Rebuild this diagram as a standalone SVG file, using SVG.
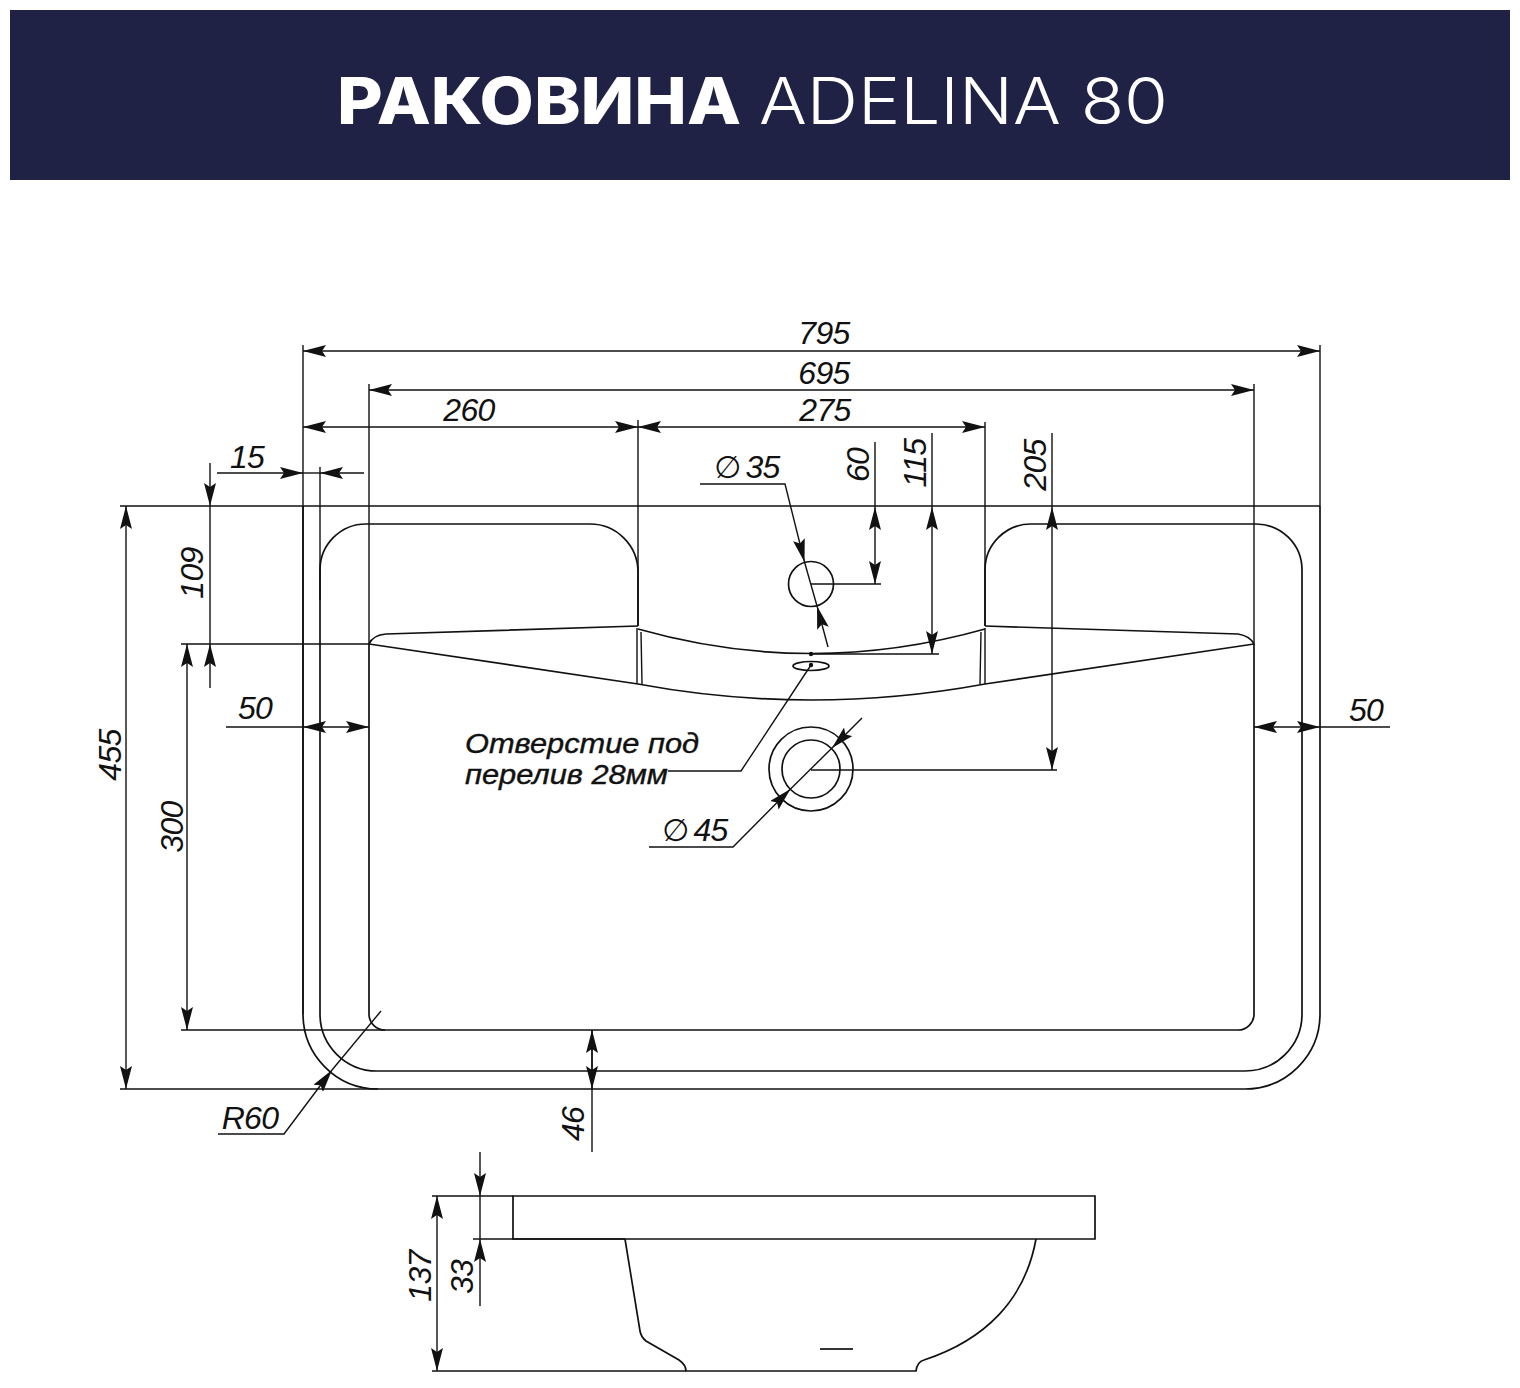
<svg xmlns="http://www.w3.org/2000/svg" width="1520" height="1388" viewBox="0 0 1520 1388">
<style>
.o{fill:none;stroke:#111;stroke-width:1.7}
.d{fill:none;stroke:#111;stroke-width:1.4}
.a{marker-end:url(#ar)}
.b{marker-start:url(#ar);marker-end:url(#ar)}
.t{font-family:"Liberation Sans",Arial,sans-serif;font-style:italic;font-size:32px;letter-spacing:-.7px;fill:#111;text-anchor:middle}
.dia{word-spacing:-4px}
.f{font-family:"DejaVu Sans",sans-serif;font-style:italic;font-size:31px;letter-spacing:0}
.l{font-family:"Liberation Sans",Arial,sans-serif;font-style:italic;font-size:28px;fill:#111;stroke:#111;stroke-width:.4}
.h{font-family:"Inter","Open Sans",sans-serif;font-size:64px;fill:#fff}
</style>
<defs>
<marker id="ar" markerUnits="userSpaceOnUse" markerWidth="23" markerHeight="12" viewBox="0 0 23 12" refX="23" refY="6" orient="auto-start-reverse"><path d="M23 6L0 0L4 6L0 12Z" fill="#111"/></marker>
</defs>
<rect width="1520" height="1388" fill="#fff"/>
<g id="header">
<rect x="10" y="10" width="1500" height="170" fill="#1f2145"/>
<text class="h" x="337" y="124" font-weight="800" textLength="404" lengthAdjust="spacingAndGlyphs">РАКОВИНА</text>
<text class="h" x="759" y="124" font-weight="300" textLength="409" lengthAdjust="spacingAndGlyphs">ADELINA 80</text>
</g>
<g id="plan">
<path class="o" d="M303 506V1014A75 75 0 0 0 378 1089H1245A75 75 0 0 0 1320 1014V506"/>
<path class="o" d="M638 626V572A48 48 0 0 0 590 524H366A46 46 0 0 0 320 570V1014A57 57 0 0 0 377 1071H1245A57 57 0 0 0 1302 1014V570A46 46 0 0 0 1256 524H1031A46 46 0 0 0 985 570V626"/>
<path class="o" d="M369 644V1014A16 16 0 0 0 385 1030H1238A16 16 0 0 0 1254 1014V644"/>
<path class="o" d="M369 644Q373 635 386 634L638 626M985 626L1238 634Q1250 636 1254 644"/>
<path class="o" d="M369 644L638 684Q811 716 985 684L1254 644"/>
<path class="o" d="M638 629Q811 678 985 629"/>
<path class="d" d="M637 628V684M641 632L642 684M981 632L980 684M985 628V684"/>
<circle class="o" cx="811" cy="584" r="22.500"/>
<circle class="o" cx="811" cy="769" r="42"/>
<circle class="o" cx="811" cy="769" r="29"/>
<ellipse class="o" cx="811" cy="666" rx="18" ry="4.500"/>
<circle cx="811" cy="654" r="2.200" fill="#111"/>
<circle cx="811" cy="665" r="2.200" fill="#111"/>
</g>
<g id="section">
<path class="o" d="M513 1196H1095V1239H513ZM625 1239L640 1331Q641 1337 646 1341L679 1360Q686 1365 686 1371H916Q917 1362 924 1360C985 1340 1025 1300 1036 1239"/>
<path d="M820 1349H853" stroke="#333" stroke-width="2"/>
</g>
<g id="connectors">
<path class="d b" d="M303 351H1320"/>
<path class="d" d="M303 345V1014M1320 345V506"/>
<path class="d b" d="M369 390H1254"/>
<path class="d" d="M369 384V644M1254 384V644"/>
<path class="d b" d="M303 427H638"/>
<path class="d b" d="M638 427H985"/>
<path class="d" d="M638 420V626M985 422V626"/>
<path class="d a" d="M217 473H303"/>
<path class="d" d="M303 473H320"/>
<path class="d a" d="M364 473H320"/>
<path class="d" d="M320 467V600"/>
<path class="d" d="M120 506H1320"/>
<path class="d a" d="M210 463V506"/>
<path class="d" d="M210 506V644"/>
<path class="d a" d="M210 688V644"/>
<path class="d" d="M181 644H369"/>
<path class="d b" d="M187 644V1030"/>
<path class="d" d="M181 1030H385"/>
<path class="d b" d="M126 506V1089"/>
<path class="d" d="M120 1089H378"/>
<path class="d" d="M226 727H303"/>
<path class="d b" d="M303 727H369"/>
<path class="d b" d="M1254 727H1320"/>
<path class="d" d="M1320 727H1390"/>
<path class="d a" d="M592 1089V1030"/>
<path class="d a" d="M592 1030V1089"/>
<path class="d" d="M592 1089V1152"/>
<path class="d" d="M875 442V507"/>
<path class="d b" d="M875 507V584"/>
<path class="d" d="M811 584H881"/>
<path class="d" d="M932 433V507"/>
<path class="d b" d="M932 507V654"/>
<path class="d" d="M811 654H939"/>
<path class="d" d="M1052 433V507"/>
<path class="d b" d="M1052 507V770"/>
<path class="d" d="M811 770H1057"/>
<path class="d a" d="M700 484H785L804.500 562"/>
<path class="d" d="M804.500 562L817 606"/>
<path class="d a" d="M828 647L817 606"/>
<path class="d a" d="M649 847H733L790.500 789"/>
<path class="d" d="M790.500 789L832 748"/>
<path class="d a" d="M862 718L832 748"/>
<path class="d" d="M811 665L741 771H668"/>
<path class="d a" d="M218 1134H284L332 1070"/>
<path class="d" d="M332 1070L381 1011"/>
<path class="d" d="M432 1196H513"/>
<path class="d b" d="M437 1196V1371"/>
<path class="d" d="M432 1371H686"/>
<path class="d a" d="M480 1152V1196"/>
<path class="d" d="M480 1196V1239"/>
<path class="d a" d="M480 1306V1239"/>
<path class="d" d="M473 1239H625"/>
</g>
<g id="labels">
<text class="t" x="824" y="344">795</text>
<text class="t" x="824" y="384">695</text>
<text class="t" x="469" y="421">260</text>
<text class="t" x="825" y="421">275</text>
<text class="t" x="247" y="468">15</text>
<text class="t" x="255" y="719">50</text>
<text class="t" x="1366" y="721">50</text>
<text class="t" transform="translate(121 755) rotate(-90)">455</text>
<text class="t" transform="translate(183 827) rotate(-90)">300</text>
<text class="t" transform="translate(203 573) rotate(-90)">109</text>
<text class="t" transform="translate(869 465) rotate(-90)">60</text>
<text class="t" transform="translate(926 463) rotate(-90)">115</text>
<text class="t" transform="translate(1046 465) rotate(-90)">205</text>
<text class="t" transform="translate(431 1276) rotate(-90)">137</text>
<text class="t" transform="translate(473 1277) rotate(-90)">33</text>
<text class="t" transform="translate(584 1124) rotate(-90)">46</text>
<text class="t" x="250" y="1129">R60</text>
<text class="t dia" x="747" y="478"><tspan class="f">∅</tspan> 35</text>
<text class="t dia" x="695" y="841"><tspan class="f">∅</tspan> 45</text>
<text class="l" x="465" y="753" textLength="234" lengthAdjust="spacingAndGlyphs">Отверстие под</text>
<text class="l" x="465" y="784" textLength="203" lengthAdjust="spacingAndGlyphs">перелив 28мм</text>
</g>
</svg>
